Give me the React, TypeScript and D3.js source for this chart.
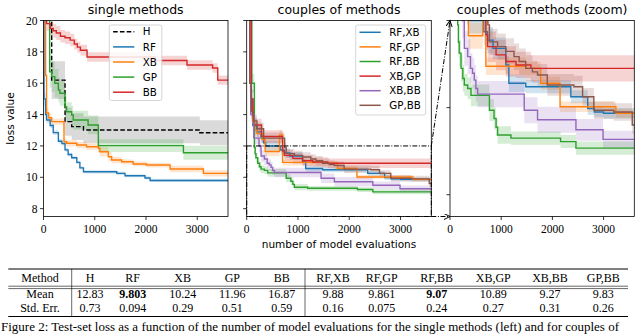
import React from "react";
import * as d3 from "d3";

type Step = [number, number, number]; // [evaluations, mean loss, std err]

const X_MAX = 3600;
const X_TICKS = [0, 1000, 2000, 3000];
const Y_TICKS = [8, 10, 12, 14, 16, 18, 20];
const ZOOM_Y_TICKS = [8, 10, 12];
const Y_DOMAIN: [number, number] = [7.5, 20];
const ZOOM_Y_DOMAIN: [number, number] = [7.5, 12];

// ---- single methods ----
const H_STEPS: Step[] = [
  [0, 22, 1.5], [160, 16.2, 1.2], [420, 13.55, 0.9], [550, 13.23, 0.85],
  [780, 13.02, 0.85], [3050, 12.84, 0.8],
];
const RF_STEPS: Step[] = [
  [0, 22, 0.5], [10, 15.0, 0.4], [40, 14.0, 0.3], [60, 13.65, 0.2], [130, 13.3, 0.15],
  [190, 12.85, 0.15], [290, 12.3, 0.15], [360, 12.15, 0.12], [420, 11.75, 0.12],
  [480, 11.45, 0.12], [550, 11.25, 0.1], [650, 10.95, 0.1], [710, 10.6, 0.1],
  [780, 10.35, 0.1], [1430, 10.25, 0.1], [1590, 10.1, 0.1], [1980, 9.96, 0.1],
  [2080, 9.8, 0.1],
];
const XB_STEPS: Step[] = [
  [0, 22, 0.5], [40, 16.5, 0.4], [60, 14.1, 0.3], [100, 13.8, 0.25], [160, 13.55, 0.2],
  [400, 12.27, 0.2], [450, 12.17, 0.2], [650, 12.06, 0.2], [840, 11.95, 0.2],
  [1070, 11.85, 0.25], [1100, 11.63, 0.3], [1265, 11.31, 0.3], [1330, 11.1, 0.2],
  [1525, 10.99, 0.15], [1750, 10.85, 0.15], [2010, 10.78, 0.15], [2470, 10.53, 0.2],
  [3120, 10.25, 0.2],
];
const GP_STEPS: Step[] = [
  [0, 22, 1.0], [120, 16.73, 1.0], [160, 16.42, 1.0], [220, 16.0, 0.9], [290, 15.57, 0.8],
  [320, 15.36, 0.8], [420, 14.5, 0.7], [450, 14.18, 0.6], [550, 13.97, 0.6],
  [580, 13.65, 0.6], [870, 13.34, 0.6], [1070, 12.02, 0.4], [2730, 11.57, 0.45],
];
const BB_STEPS: Step[] = [
  [0, 20.3, 0.45], [60, 19.8, 0.45], [130, 19.5, 0.45], [190, 19.35, 0.45], [250, 19.2, 0.45],
  [330, 19.0, 0.4], [420, 18.9, 0.4], [520, 18.75, 0.4], [600, 18.5, 0.35], [660, 18.3, 0.35],
  [720, 18.1, 0.35], [850, 17.67, 0.3], [2180, 17.45, 0.3], [2800, 17.16, 0.3],
  [3300, 16.97, 0.3], [3400, 16.2, 0.3],
];

// ---- couples of methods ----
const RFXB_STEPS: Step[] = [
  [0, 22, 0.8], [80, 15, 0.6], [120, 13.3, 0.5], [200, 12.9, 0.4], [280, 12.5, 0.3],
  [330, 12.2, 0.3], [370, 12.0, 0.3], [660, 11.74, 0.3], [730, 11.55, 0.3], [840, 11.36, 0.25],
  [1090, 10.98, 0.2], [1150, 10.56, 0.2], [1480, 10.48, 0.15], [2360, 10.25, 0.15],
  [2690, 9.98, 0.15], [2820, 9.9, 0.12], [3000, 9.87, 0.12],
];
const RFGP_STEPS: Step[] = [
  [0, 22, 0.8], [80, 14.5, 0.6], [120, 13.5, 0.5], [160, 13.0, 0.4], [200, 12.8, 0.4],
  [300, 12.4, 0.3], [360, 11.65, 0.3], [640, 12.7, 0.3], [700, 10.95, 0.2],
  [1480, 10.9, 0.15], [1770, 10.56, 0.15], [2150, 10.02, 0.12], [3240, 9.87, 0.1],
];
const RFBB_STEPS: Step[] = [
  [0, 22, 0.8], [100, 16, 0.6], [150, 11.9, 0.4], [165, 11.5, 0.35], [180, 11.25, 0.3],
  [215, 10.9, 0.3], [250, 10.67, 0.3], [280, 10.52, 0.25], [345, 10.44, 0.25],
  [410, 10.28, 0.25], [770, 9.94, 0.25], [860, 9.75, 0.25], [900, 9.55, 0.2],
  [930, 9.37, 0.2], [1190, 9.3, 0.15], [2160, 9.22, 0.15], [2460, 9.07, 0.15],
];
const XBGP_STEPS: Step[] = [
  [0, 22, 0.8], [90, 15, 0.6], [120, 13.9, 0.5], [140, 13.34, 0.4], [290, 12.6, 0.4],
  [700, 11.67, 0.35], [735, 11.4, 0.35], [900, 11.21, 0.35], [1090, 11.06, 0.35],
  [1290, 10.98, 0.3], [1580, 10.9, 0.3],
];
const XBBB_STEPS: Step[] = [
  [0, 22, 0.8], [60, 16, 0.6], [80, 14.0, 0.5], [140, 12.5, 0.4], [240, 12.0, 0.4],
  [280, 11.36, 0.4], [345, 11.17, 0.4], [400, 10.9, 0.35], [440, 10.79, 0.35],
  [475, 10.63, 0.35], [505, 10.44, 0.3], [540, 10.31, 0.3], [1450, 9.94, 0.3],
  [1710, 9.72, 0.3], [2460, 9.49, 0.25], [2990, 9.27, 0.2],
];
const GPBB_STEPS: Step[] = [
  [0, 22, 0.8], [60, 16, 0.6], [90, 14.2, 0.5], [130, 13.6, 0.4], [200, 13.1, 0.4],
  [330, 12.5, 0.35], [740, 11.9, 0.35], [770, 11.51, 0.3], [930, 11.4, 0.3],
  [1090, 11.29, 0.3], [1250, 11.17, 0.3], [1350, 11.06, 0.3], [1480, 10.9, 0.3],
  [1610, 10.82, 0.25], [1710, 10.75, 0.25], [1900, 10.52, 0.25], [2420, 10.48, 0.25],
  [2590, 10.25, 0.2], [2810, 9.94, 0.2], [3200, 9.9, 0.2], [3560, 9.6, 0.2],
];

const SINGLE_NAMES = ["H", "RF", "XB", "GP", "BB"];
const COUPLE_NAMES = ["RF,XB", "RF,GP", "RF,BB", "XB,GP", "XB,BB", "GP,BB"];

const TABLE_HEAD = ["Method", "H", "RF", "XB", "GP", "BB", "RF,XB", "RF,GP", "RF,BB", "XB,GP", "XB,BB", "GP,BB"];
const TABLE_MEAN = ["Mean", "12.83", "9.803", "10.24", "11.96", "16.87", "9.88", "9.861", "9.07", "10.89", "9.27", "9.83"];
const TABLE_STD = ["Std. Err.", "0.73", "0.094", "0.29", "0.51", "0.59", "0.16", "0.075", "0.24", "0.27", "0.31", "0.26"];
const TABLE_BOLD = ["9.803", "9.07"];

const CAPTION =
  "Figure 2: Test-set loss as a function of the number of model evaluations for the single methods (left) and for couples of";

// ---- styling ----
const C = {
  black: "#000000",
  blue: "#1f77b4",
  orange: "#ff7f0e",
  green: "#2ca02c",
  red: "#d62728",
  purple: "#9467bd",
  brown: "#8c564b",
};
const SANS = "'DejaVu Sans', sans-serif";
const SERIF = "'Liberation Serif', 'Times New Roman', serif";
const TOP = 20.5;
const BOTTOM = 216.5;
const DASHDOT = "5,1.6,1,1.6";

type Series = { name: string; color: string; band: string; dash?: string; data: Step[] };

const singleSeries: Series[] = [
  { name: SINGLE_NAMES[0], color: C.black, band: "#444", dash: "4.6,2.2", data: H_STEPS },
  { name: SINGLE_NAMES[1], color: C.blue, band: C.blue, data: RF_STEPS },
  { name: SINGLE_NAMES[2], color: C.orange, band: C.orange, data: XB_STEPS },
  { name: SINGLE_NAMES[3], color: C.green, band: C.green, data: GP_STEPS },
  { name: SINGLE_NAMES[4], color: C.red, band: C.red, data: BB_STEPS },
];
const coupleSeries: Series[] = [
  { name: COUPLE_NAMES[0], color: C.blue, band: C.blue, data: RFXB_STEPS },
  { name: COUPLE_NAMES[1], color: C.orange, band: C.orange, data: RFGP_STEPS },
  { name: COUPLE_NAMES[2], color: C.green, band: C.green, data: RFBB_STEPS },
  { name: COUPLE_NAMES[3], color: C.red, band: C.red, data: XBGP_STEPS },
  { name: COUPLE_NAMES[4], color: C.purple, band: C.purple, data: XBBB_STEPS },
  { name: COUPLE_NAMES[5], color: C.brown, band: C.brown, data: GPBB_STEPS },
];

const extend = (s: Step[]): Step[] => [...s, [X_MAX, s[s.length - 1][1], s[s.length - 1][2]]];

function Panel(props: {
  id: string;
  x0: number;
  x1: number;
  yDomain: [number, number];
  yTicks: number[];
  yLabels: boolean;
  series: Series[];
  title: string;
  children?: React.ReactNode;
}) {
  const { id, x0, x1, yDomain, yTicks, yLabels, series, title, children } = props;
  const x = d3.scaleLinear().domain([0, X_MAX]).range([x0, x1]);
  const y = d3.scaleLinear().domain(yDomain).range([BOTTOM, TOP]);
  const line = d3
    .line<Step>()
    .x((d) => x(d[0]))
    .y((d) => y(d[1]))
    .curve(d3.curveStepAfter);
  const area = d3
    .area<Step>()
    .x((d) => x(d[0]))
    .y0((d) => y(d[1] - d[2]))
    .y1((d) => y(d[1] + d[2]))
    .curve(d3.curveStepAfter);
  return (
    <g>
      <defs>
        <clipPath id={id}>
          <rect x={x0} y={TOP} width={x1 - x0} height={BOTTOM - TOP} />
        </clipPath>
      </defs>
      <g clipPath={`url(#${id})`}>
        {series.map((s) => (
          <path key={"b" + s.name} d={area(extend(s.data)) || ""} fill={s.band} fillOpacity={0.2} stroke="none" />
        ))}
        {series.map((s) => (
          <path
            key={"l" + s.name}
            d={line(extend(s.data)) || ""}
            fill="none"
            stroke={s.color}
            strokeWidth={1.4}
            strokeDasharray={s.dash}
          />
        ))}
      </g>
      {children}
      <rect x={x0} y={TOP} width={x1 - x0} height={BOTTOM - TOP} fill="none" stroke="#000" strokeWidth={0.8} />
      {X_TICKS.map((t) => (
        <g key={"xt" + t}>
          <line x1={x(t)} x2={x(t)} y1={BOTTOM} y2={BOTTOM + 3.5} stroke="#000" strokeWidth={0.8} />
          <text x={x(t)} y={BOTTOM + 16} textAnchor="middle" fontFamily={SERIF} fontSize={11.5}>
            {t}
          </text>
        </g>
      ))}
      {yTicks.map((t) => (
        <g key={"yt" + t}>
          <line x1={x0 - 3.5} x2={x0} y1={y(t)} y2={y(t)} stroke="#000" strokeWidth={0.8} />
          {yLabels && (
            <text x={x0 - 6} y={y(t) + 4} textAnchor="end" fontFamily={SERIF} fontSize={11.5}>
              {t}
            </text>
          )}
        </g>
      ))}
      <text x={(x0 + x1) / 2} y={13.5} textAnchor="middle" fontFamily={SANS} fontSize={12.5}>
        {title}
      </text>
    </g>
  );
}

function Legend(props: { x: number; y: number; w: number; h: number; first: number; step: number; series: Series[] }) {
  const { x, y, w, h, first, step, series } = props;
  return (
    <g>
      <rect x={x} y={y} width={w} height={h} rx={2} fill="#fff" fillOpacity={0.85} stroke="#cccccc" strokeWidth={0.8} />
      {series.map((s, i) => {
        const yy = y + first + i * step;
        return (
          <g key={s.name}>
            <line x1={x + 3.8} x2={x + 25} y1={yy} y2={yy} stroke={s.color} strokeWidth={1.5} strokeDasharray={s.dash} />
            <text x={x + 33.5} y={yy + 3.6} fontFamily={SANS} fontSize={10.3}>
              {s.name}
            </text>
          </g>
        );
      })}
    </g>
  );
}

const TABLE_COLS = [40, 90, 132.7, 182.7, 232.3, 281.7, 333, 381.7, 436.7, 493.3, 550, 603.3];

function Table() {
  const rows = [
    { cells: TABLE_HEAD, y: 282.3 },
    { cells: TABLE_MEAN, y: 298.2 },
    { cells: TABLE_STD, y: 311.8 },
  ];
  return (
    <g fontFamily={SERIF} fontSize={12}>
      <line x1={8.3} x2={628} y1={269} y2={269} stroke="#000" strokeWidth={1} />
      <line x1={8.3} x2={628} y1={286.2} y2={286.2} stroke="#000" strokeWidth={0.6} />
      <line x1={8.3} x2={628} y1={288.6} y2={288.6} stroke="#000" strokeWidth={0.6} />
      <line x1={8.3} x2={628} y1={316.5} y2={316.5} stroke="#000" strokeWidth={1} />
      <line x1={71.7} x2={71.7} y1={269} y2={316.5} stroke="#000" strokeWidth={0.6} />
      <line x1={305} x2={305} y1={269} y2={316.5} stroke="#000" strokeWidth={0.6} />
      {rows.map((r, ri) =>
        r.cells.map((c, ci) => (
          <text
            key={ri + "-" + ci}
            x={TABLE_COLS[ci]}
            y={r.y}
            textAnchor="middle"
            fontWeight={ri === 1 && TABLE_BOLD.includes(c) ? "bold" : "normal"}
          >
            {c}
          </text>
        ))
      )}
    </g>
  );
}

export default function App() {
  const midX0 = 246.7;
  const midX1 = 431.3;
  const zoomX0 = 450;
  const xm = d3.scaleLinear().domain([0, X_MAX]).range([midX0, midX1]);
  const ym = d3.scaleLinear().domain(Y_DOMAIN).range([BOTTOM, TOP]);
  const yz = d3.scaleLinear().domain(ZOOM_Y_DOMAIN).range([BOTTOM, TOP]);
  const zTop = ZOOM_Y_DOMAIN[1];
  const zBot = ZOOM_Y_DOMAIN[0];
  return (
    <svg
      width={640}
      height={334}
      viewBox="0 0 640 334"
      style={{ position: "absolute", left: 0, top: 0, background: "#fff" }}
    >
      <defs>
        <marker id="arr" markerWidth={8} markerHeight={8} refX={6} refY={3} orient="auto" markerUnits="userSpaceOnUse">
          <path d="M0,0 L6,3 L0,6" fill="none" stroke="#000" strokeWidth={1} />
        </marker>
      </defs>
      <rect x={0} y={0} width={640} height={334} fill="#fff" />
      <Panel id="cl" x0={43.5} x1={228} yDomain={Y_DOMAIN} yTicks={Y_TICKS} yLabels={true} series={singleSeries} title="single methods" />
      <Legend x={109.3} y={25} w={52.5} h={75.5} first={6.8} step={15.1} series={singleSeries} />
      <Panel id="cm" x0={midX0} x1={midX1} yDomain={Y_DOMAIN} yTicks={Y_TICKS} yLabels={false} series={coupleSeries} title="couples of methods">
        <rect
          x={xm(0)}
          y={ym(zTop)}
          width={xm(X_MAX) - xm(0)}
          height={ym(zBot) - ym(zTop)}
          fill="none"
          stroke="#000"
          strokeWidth={1}
          strokeDasharray={DASHDOT}
        />
      </Panel>
      <Legend x={355.7} y={25} w={70} h={90} first={7.3} step={14.6} series={coupleSeries} />
      <Panel id="cz" x0={zoomX0} x1={634.3} yDomain={ZOOM_Y_DOMAIN} yTicks={ZOOM_Y_TICKS} yLabels={false} series={coupleSeries} title="couples of methods (zoom)" />
      {/* connectors */}
      <line x1={xm(X_MAX)} y1={ym(zTop)} x2={zoomX0} y2={yz(zTop)} stroke="#000" strokeWidth={1} strokeDasharray={DASHDOT} markerEnd="url(#arr)" />
      <line x1={xm(X_MAX)} y1={ym(zBot)} x2={zoomX0} y2={yz(zBot)} stroke="#000" strokeWidth={1} strokeDasharray={DASHDOT} markerEnd="url(#arr)" />
      <text x={13.5} y={118.5} transform="rotate(-90 13.5 118.5)" textAnchor="middle" fontFamily={SANS} fontSize={10.5}>
        loss value
      </text>
      <text x={339} y={248} textAnchor="middle" fontFamily={SANS} fontSize={10.5}>
        number of model evaluations
      </text>
      <Table />
      <text x={1} y={330.8} fontFamily={SERIF} fontSize={13}>
        {CAPTION}
      </text>
    </svg>
  );
}
